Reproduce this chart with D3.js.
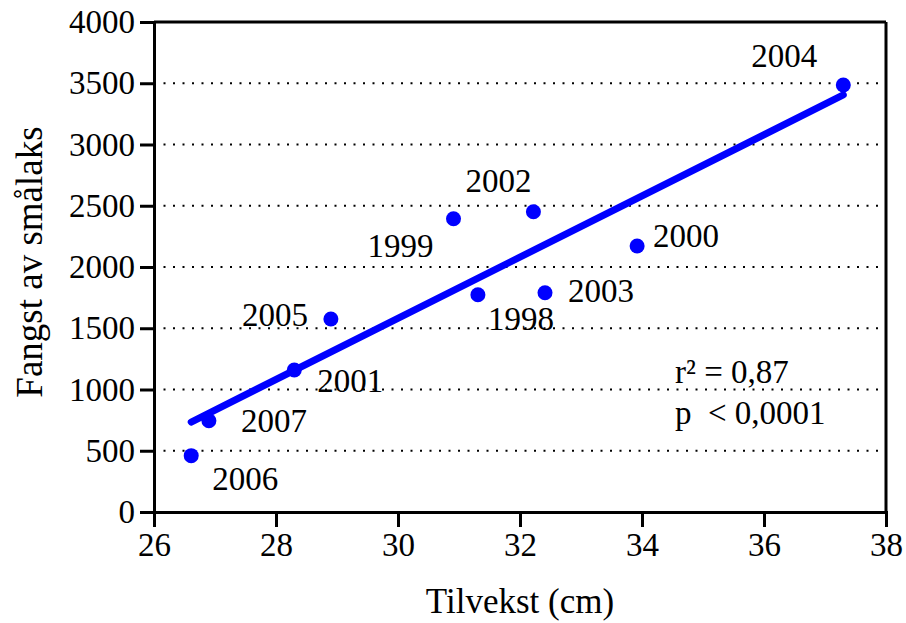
<!DOCTYPE html>
<html>
<head>
<meta charset="utf-8">
<script src="https://cdn.jsdelivr.net/npm/d3@7"></script>
<style>
  body { margin: 0; background: #fff; }
  svg { display: block; }
  svg text { font-family: "Liberation Serif", "Times New Roman", serif; fill: #000; }
  .axis path, .axis line { stroke: #000; stroke-width: 3px; }
  .axis text { font-size: 33px; }
</style>
</head>
<body>
<svg id="chart"></svg>
<script>
// data
var years  = [1998, 1999, 2000, 2001, 2002, 2003, 2004, 2005, 2006, 2007];
var growth = [31.31, 30.91, 33.92, 28.30, 32.22, 32.41, 37.30, 28.90, 26.61, 26.90]; // Tilvekst (cm)
var catch_ = [1774, 2394, 2171, 1159, 2451, 1790, 3486, 1576, 460, 745];           // Fangst av smålaks
var xTicks = [26, 28, 30, 32, 34, 36, 38];
var yTicks = [0, 500, 1000, 1500, 2000, 2500, 3000, 3500, 4000];
var gridTicks = [500, 1000, 1500, 2000, 2500, 3000, 3500];
var statLines = ["r\u00b2 = 0,87", "p  < 0,0001"];

// label offsets (px) for the year labels: [dx, dy, anchor]
var labelPos = {
  1998: [10, 35, "start"], 1999: [-20, 38, "end"], 2000: [16, 1, "start"],
  2001: [23, 22, "start"], 2002: [-68, -20, "start"], 2003: [23, 9, "start"],
  2004: [-92, -18, "start"], 2005: [-23, 7, "end"], 2006: [21, 34, "start"],
  2007: [32, 11, "start"]
};

var width = 906, height = 623;
var margin = { top: 22, right: 20, bottom: 111, left: 154 };
var innerW = 886 - margin.left, innerH = 512 - margin.top;

var svg = d3.select("#chart").attr("width", width).attr("height", height);
var g = svg.append("g").attr("transform", "translate(" + margin.left + "," + margin.top + ")");

var x = d3.scaleLinear().domain([26, 38]).range([0, innerW]);
var y = d3.scaleLinear().domain([0, 4000]).range([innerH, 0]);

var points = years.map(function(yr, i) { return { year: yr, x: growth[i], y: catch_[i] }; });

// dotted grid
g.selectAll(".grid").data(gridTicks).enter().append("line")
  .attr("class", "grid")
  .attr("x1", 0).attr("x2", innerW)
  .attr("y1", function(d) { return y(d); }).attr("y2", function(d) { return y(d); })
  .attr("stroke", "#000").attr("stroke-width", 2)
  .attr("stroke-dasharray", "2 7.5");

// frame top / right
g.append("line").attr("x1", 0).attr("x2", innerW).attr("y1", 0).attr("y2", 0)
  .attr("stroke", "#000").attr("stroke-width", 3);
g.append("line").attr("x1", innerW).attr("x2", innerW).attr("y1", 0).attr("y2", innerH)
  .attr("stroke", "#000").attr("stroke-width", 3);

// axes
var xAxis = d3.axisBottom(x).tickValues(xTicks).tickSize(15).tickSizeOuter(0).tickPadding(6)
  .tickFormat(d3.format("d"));
g.append("g").attr("class", "x axis")
  .attr("transform", "translate(0," + innerH + ")")
  .call(xAxis);

var yAxis = d3.axisLeft(y).tickValues(yTicks).tickSize(14).tickSizeOuter(0).tickPadding(5)
  .tickFormat(d3.format("d"));
g.append("g").attr("class", "y axis").call(yAxis);

g.selectAll(".axis").attr("font-family", null).attr("font-size", null);
g.selectAll(".axis .domain").attr("stroke-linecap", "square");

// regression line (least squares)
var mx = d3.mean(points, function(d) { return d.x; });
var my = d3.mean(points, function(d) { return d.y; });
var sxy = d3.sum(points, function(d) { return (d.x - mx) * (d.y - my); });
var sxx = d3.sum(points, function(d) { return (d.x - mx) * (d.x - mx); });
var slope = sxy / sxx, intercept = my - slope * mx;
var xExt = d3.extent(points, function(d) { return d.x; });
var fit = xExt.map(function(v) { return { x: v, y: intercept + slope * v }; });

g.append("path")
  .datum(fit)
  .attr("fill", "none")
  .attr("stroke", "#0000ff")
  .attr("stroke-width", 7)
  .attr("stroke-linecap", "round")
  .attr("d", d3.line().x(function(d) { return x(d.x); }).y(function(d) { return y(d.y); }));

// points
g.selectAll(".dot").data(points).enter().append("circle")
  .attr("class", "dot")
  .attr("cx", function(d) { return x(d.x); })
  .attr("cy", function(d) { return y(d.y); })
  .attr("r", 7.5)
  .attr("fill", "#0000ff");

// year labels
g.selectAll(".yr").data(points).enter().append("text")
  .attr("class", "yr")
  .attr("x", function(d) { return x(d.x) + labelPos[d.year][0]; })
  .attr("y", function(d) { return y(d.y) + labelPos[d.year][1]; })
  .attr("text-anchor", function(d) { return labelPos[d.year][2]; })
  .attr("font-size", "33px")
  .text(function(d) { return d.year; });

// stats
g.selectAll(".stat").data(statLines).enter().append("text")
  .attr("class", "stat")
  .attr("x", 521)
  .attr("y", function(d, i) { return 361 + i * 41; })
  .attr("font-size", "33px")
  .attr("xml:space", "preserve")
  .style("white-space", "pre")
  .text(function(d) { return d; });

// axis titles
svg.append("text")
  .attr("x", margin.left + innerW / 2)
  .attr("y", 613)
  .attr("text-anchor", "middle")
  .attr("font-size", "35px")
  .text("Tilvekst (cm)");

svg.append("text")
  .attr("transform", "translate(42," + (margin.top + innerH / 2 - 5) + ") rotate(-90)")
  .attr("text-anchor", "middle")
  .attr("font-size", "37px")
  .text("Fangst av smålaks");
</script>
</body>
</html>
